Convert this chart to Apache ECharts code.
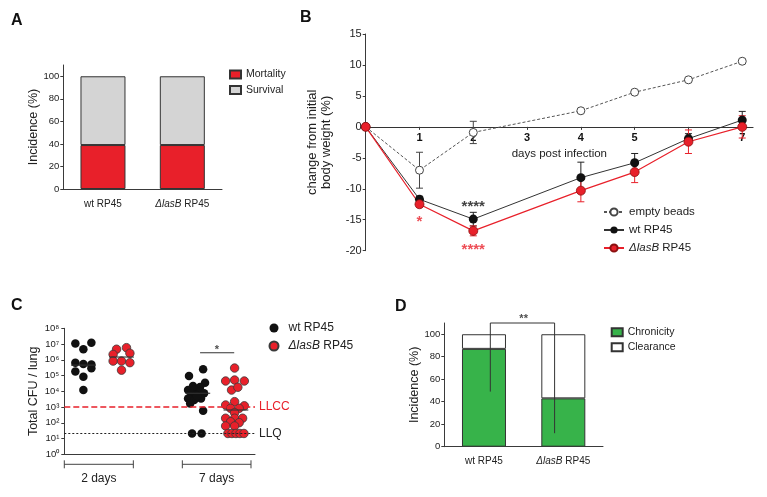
<!DOCTYPE html>
<html><head><meta charset="utf-8">
<script src="https://cdn.jsdelivr.net/npm/echarts@6/dist/echarts.min.js"></script>
<style>html,body{margin:0;padding:0;background:#fff}#c{width:767px;height:497px}</style>
</head><body><div id="c"></div>
<script>
// ---------- Panel A ----------
const catA = ['wt RP45', 'ΔlasB RP45'];
const mortality = [39, 39];
const survival = [61, 61];
// ---------- Panel B ----------
const daysB = [0, 1, 2, 4, 5, 6, 7];
const emptyMean = [0, -7.0, -0.9, 2.6, 5.6, 7.6, 10.6];
const emptyErr = [0, 2.9, 1.8, 0, 0, 0, 0];
const wtMean = [0, -11.7, -14.9, -8.2, -5.8, -1.9, 1.1];
const wtErr = [0, 0.5, 1.1, 2.5, 1.5, 0.8, 1.4];
const lasMean = [0, -12.5, -16.8, -10.3, -7.3, -2.4, 0];
const lasErr = [0, 0.5, 0.8, 1.8, 1.7, 1.9, 1.8];
const starsBlackB = [[2, -12.9, '****']];
const starsRedB = [[1, -15.4, '*'], [2, -19.9, '****']];
// ---------- Panel C ----------
const groupCenters = [1, 3, 7, 9];
const wt2d = [1.1e7, 1.2e7, 4.7e6, 6.6e5, 5.4e5, 5.1e5, 2.9e5, 1.8e5, 8.5e4, 1.2e4];
const wt2dJit = [-0.42, 0.42, 0, -0.42, 0, 0.42, 0.42, -0.42, 0, 0];
const las2d = [4.7e6, 5.9e6, 2.2e6, 2.6e6, 8.3e5, 8.3e5, 6.6e5, 2.2e5];
const las2dJit = [-0.26, 0.26, -0.44, 0.44, -0.44, 0, 0.44, 0];
const wt7d = [2.5e5, 9.3e4, 3.5e4, 2.2e4, 1.9e4, 1.2e4, 1.2e4, 9.5e3, 7.4e3, 7.4e3, 5.8e3, 3.5e3, 3.5e3, 2.8e3, 1.7e3, 5.0e3, 590, 21, 21];
const wt7dJit = [0.28, -0.46, 0.38, -0.25, 0.12, -0.51, -0.19, 0.12, -0.35, 0.33, -0.09, -0.51, 0.17, -0.19, -0.40, -0.04, 0.28, -0.30, 0.20];
const las7d = [3.0e5, 4.5e4, 5.2e4, 4.5e4, 1.2e4, 1.8e4, 1350, 2200, 1200, 830, 830, 440, 195, 195, 195, 117, 102, 63, 63, 21, 21, 21, 21, 21];
const las7dJit = [-0.07, -0.54, -0.07, 0.44, -0.23, 0.10, -0.54, -0.07, 0.44, -0.28, 0.17, -0.07, -0.54, -0.07, 0.35, -0.28, 0.17, -0.54, -0.07, -0.42, -0.21, 0, 0.21, 0.42];
const mediansC = [4.6e5, 1.5e6, 7.5e3, 650];
const LLCC = 1000, LLQ = 21;
const cTicks = [1, 10, 100, 1e3, 1e4, 1e5, 1e6, 1e7, 1e8];
const timeGroups = [[0, 3.62, '2 days'], [6.19, 9.79, '7 days']];
const sigC = [[7.12, 2.8e6], [8.91, 2.8e6]];
const sigCStar = [[8.0, 4.1e6, '*']];
// ---------- Panel D ----------
const catD = ['wt RP45', 'ΔlasB RP45'];
const chronicity = [87, 43];
const clearance = [13, 57];
const sigD = [[0.58, 49], [0.58, 110], [1.39, 110], [1.39, 12]];
const sigDStar = [[1.0, 114, '**']];

const FONT = '"Liberation Sans", Arial, Helvetica, sans-serif';
const RED = '#e8202a';
const AX = {color: '#3a3a3a', width: 1};
const sup = {'0':'⁰','1':'¹','2':'²','3':'³','4':'⁴','5':'⁵','6':'⁶','7':'⁷','8':'⁸'};

function fmtName(n) {
  n = n.replace(' (C)', '');
  return n.indexOf('ΔlasB') === 0 ? '{i|ΔlasB}' + n.slice(5) : n;
}
function errRender(color) {
  return function (params, api) {
    const x = api.value(0), y = api.value(1), e = api.value(2);
    if (!e) return null;
    const t = api.coord([x, y + e]), b = api.coord([x, y - e]);
    const w = 3.5, st = {stroke: color, lineWidth: 1};
    return {type: 'group', children: [
      {type: 'line', shape: {x1: t[0], y1: t[1], x2: b[0], y2: b[1]}, style: st},
      {type: 'line', shape: {x1: t[0] - w, y1: t[1], x2: t[0] + w, y2: t[1]}, style: st},
      {type: 'line', shape: {x1: b[0] - w, y1: b[1], x2: b[0] + w, y2: b[1]}, style: st}
    ]};
  };
}
function jitterData(center, vals, jit) {
  return vals.map((v, i) => [center + jit[i], v]);
}
function starSeries(xi, yi, data, color, size) {
  return {type: 'scatter', xAxisIndex: xi, yAxisIndex: yi, symbolSize: 0, clip: false, silent: true, z: 6,
    data: data,
    label: {show: true, position: 'inside', formatter: p => p.data[2], color: color, fontSize: size, fontWeight: 'bold', fontFamily: FONT}};
}

const gridB = {left: 365.7, top: 34, width: 387.3, height: 216.7};
const bMin = -20, bMax = 15;
const zeroOffset = -gridB.height * (0 - bMin) / (bMax - bMin);

const chart = echarts.init(document.getElementById('c'));
const option = {
  animation: false,
  backgroundColor: '#fff',
  textStyle: {fontFamily: FONT},
  grid: [
    {left: 63.3, top: 65, width: 158.7, height: 124},
    gridB,
    {left: 64.3, top: 328.3, width: 190.7, height: 126},
    {left: 444.3, top: 323, width: 158.7, height: 123.7}
  ],
  xAxis: [
    {type: 'category', gridIndex: 0, data: catA, axisLine: {lineStyle: AX},
      axisTick: {alignWithLabel: true, length: 4, lineStyle: AX},
      axisLabel: {interval: 0, hideOverlap: false, margin: 10, fontSize: 10, color: '#222', formatter: fmtName, rich: {i: {fontStyle: 'italic', fontSize: 10, color: '#222'}}}},
    {type: 'value', gridIndex: 1, min: 0, max: 7.2, interval: 1, splitLine: {show: false}, position: 'bottom', offset: zeroOffset,
      axisLine: {onZero: false, lineStyle: {color: '#333', width: 1.2}},
      axisTick: {customValues: [1, 2, 3, 4, 5, 6, 7], length: 3, lineStyle: AX},
      axisLabel: {customValues: [1, 2, 3, 4, 5, 6, 7], fontSize: 11, fontWeight: 'bold', color: '#111', margin: 6},
      name: 'days post infection', nameLocation: 'middle', nameGap: 21, nameTextStyle: {fontSize: 11.5, color: '#222'}},
    {type: 'value', gridIndex: 2, min: 0, max: 10, splitLine: {show: false}, axisLine: {onZero: false, lineStyle: AX},
      axisTick: {show: false}, axisLabel: {show: false}},
    {type: 'category', gridIndex: 3, data: catD, axisLine: {lineStyle: AX},
      axisTick: {alignWithLabel: true, length: 4, lineStyle: AX},
      axisLabel: {interval: 0, hideOverlap: false, margin: 10, fontSize: 10, color: '#222', formatter: fmtName, rich: {i: {fontStyle: 'italic', fontSize: 10, color: '#222'}}}},
    {type: 'value', gridIndex: 3, min: 0, max: 2, show: false}
  ],
  yAxis: [
    {type: 'value', gridIndex: 0, min: 0, max: 110, splitLine: {show: false}, axisLine: {show: true, lineStyle: AX},
      axisTick: {show: true, length: 3, customValues: [0, 20, 40, 60, 80, 100], lineStyle: AX},
      axisLabel: {customValues: [0, 20, 40, 60, 80, 100], fontSize: 9.5, color: '#222', margin: 4},
      name: 'Incidence (%)', nameLocation: 'middle', nameGap: 20, nameTextStyle: {fontSize: 12.5, color: '#222'}},
    {type: 'value', gridIndex: 1, min: bMin, max: bMax, interval: 5, splitLine: {show: false}, axisLine: {show: true, lineStyle: AX},
      axisTick: {show: true, length: 3, lineStyle: AX},
      axisLabel: {fontSize: 11, color: '#222', margin: 4},
      name: 'change from initial\nbody weight (%)', nameLocation: 'middle', nameGap: 32,
      nameTextStyle: {fontSize: 13, lineHeight: 14.5, color: '#222'}},
    {type: 'log', gridIndex: 2, min: 1, max: 1e8, logBase: 10, splitNumber: 8, splitLine: {show: false},
      axisLine: {show: true, lineStyle: AX},
      axisTick: {show: true, length: 3, customValues: cTicks, lineStyle: AX},
      axisLabel: {customValues: cTicks, fontSize: 9.5, color: '#222', margin: 5,
        formatter: v => '10' + sup[String(Math.round(Math.log10(v)))]},
      name: 'Total CFU / lung', nameLocation: 'middle', nameGap: 24, nameTextStyle: {fontSize: 12.5, color: '#222'}},
    {type: 'value', gridIndex: 3, min: 0, max: 110, splitLine: {show: false}, axisLine: {show: true, lineStyle: AX},
      axisTick: {show: true, length: 3, customValues: [0, 20, 40, 60, 80, 100], lineStyle: AX},
      axisLabel: {customValues: [0, 20, 40, 60, 80, 100], fontSize: 9.5, color: '#222', margin: 4},
      name: 'Incidence (%)', nameLocation: 'middle', nameGap: 20, nameTextStyle: {fontSize: 12.5, color: '#222'}}
  ],
  legend: [
    {data: ['Mortality', 'Survival'], orient: 'vertical', left: 229, top: 69, padding: 0, itemWidth: 11, itemHeight: 8, itemGap: 4.5,
      icon: 'rect', selectedMode: false, textStyle: {fontSize: 10.5, color: '#222'}},
    {data: ['empty beads', 'wt RP45', 'ΔlasB RP45'], orient: 'vertical', left: 603, top: 206, padding: 0, itemWidth: 20, itemHeight: 9, itemGap: 6,
      selectedMode: false, formatter: fmtName, textStyle: {fontSize: 11.5, color: '#222', rich: {i: {fontStyle: 'italic', fontSize: 11.5, color: '#222'}}}},
    {data: ['wt RP45 (C)', 'ΔlasB RP45 (C)'], orient: 'vertical', left: 268.5, top: 322, padding: 0, itemWidth: 9, itemHeight: 9, itemGap: 6, icon: 'circle',
      selectedMode: false, formatter: fmtName, textStyle: {fontSize: 12, color: '#222', padding: [0, 0, 0, 5], rich: {i: {fontStyle: 'italic', fontSize: 12, color: '#222'}}}},
    {data: ['Chronicity', 'Clearance'], orient: 'vertical', left: 610.7, top: 326.7, padding: 0, itemWidth: 11, itemHeight: 8, itemGap: 4,
      icon: 'rect', selectedMode: false, textStyle: {fontSize: 10.5, color: '#222'}}
  ],
  graphic: [
    {type: 'text', left: 11, top: 13, style: {text: 'A', fontSize: 16, fontWeight: 'bold', fontFamily: FONT, fill: '#111'}},
    {type: 'text', left: 300, top: 10, style: {text: 'B', fontSize: 16, fontWeight: 'bold', fontFamily: FONT, fill: '#111'}},
    {type: 'text', left: 11, top: 298, style: {text: 'C', fontSize: 16, fontWeight: 'bold', fontFamily: FONT, fill: '#111'}},
    {type: 'text', left: 395, top: 299, style: {text: 'D', fontSize: 16, fontWeight: 'bold', fontFamily: FONT, fill: '#111'}}
  ],
  series: [
    // Panel A
    {name: 'Mortality', type: 'bar', xAxisIndex: 0, yAxisIndex: 0, stack: 'A', barWidth: 45, data: mortality,
      itemStyle: {color: RED, borderColor: '#333', borderWidth: 1}},
    {name: 'Survival', type: 'bar', xAxisIndex: 0, yAxisIndex: 0, stack: 'A', barWidth: 45, data: survival,
      itemStyle: {color: '#d4d4d4', borderColor: '#333', borderWidth: 1}},
    // Panel B error bars
    {name: 'errE', type: 'custom', xAxisIndex: 1, yAxisIndex: 1, z: 1, clip: false, encode: {x: 0, y: 1},
      data: daysB.map((d, i) => [d, emptyMean[i], emptyErr[i]]), renderItem: errRender('#444')},
    {name: 'errW', type: 'custom', xAxisIndex: 1, yAxisIndex: 1, z: 1, clip: false, encode: {x: 0, y: 1},
      data: daysB.map((d, i) => [d, wtMean[i], wtErr[i]]), renderItem: errRender('#222')},
    {name: 'errL', type: 'custom', xAxisIndex: 1, yAxisIndex: 1, z: 1, clip: false, encode: {x: 0, y: 1},
      data: daysB.map((d, i) => [d, lasMean[i], lasErr[i]]), renderItem: errRender(RED)},
    // Panel B lines
    {name: 'empty beads', type: 'line', xAxisIndex: 1, yAxisIndex: 1, data: daysB.map((d, i) => [d, emptyMean[i]]),
      symbol: 'circle', symbolSize: 8, itemStyle: {color: '#fff', borderColor: '#444', borderWidth: 1},
      lineStyle: {color: '#555', width: 1, type: [3, 2]}},
    {name: 'wt RP45', type: 'line', xAxisIndex: 1, yAxisIndex: 1, data: daysB.map((d, i) => [d, wtMean[i]]),
      symbol: 'circle', symbolSize: 9, itemStyle: {color: '#111'}, lineStyle: {color: '#333', width: 1}},
    {name: 'ΔlasB RP45', type: 'line', xAxisIndex: 1, yAxisIndex: 1, data: daysB.map((d, i) => [d, lasMean[i]]),
      symbol: 'circle', symbolSize: 9, itemStyle: {color: RED, borderColor: '#8a1010', borderWidth: 0.8}, lineStyle: {color: RED, width: 1.2}},
    starSeries(1, 1, starsBlackB, '#111', 15),
    starSeries(1, 1, starsRedB, RED, 15),
    // Panel C
    {name: 'wt RP45 (C)', type: 'scatter', xAxisIndex: 2, yAxisIndex: 2, symbolSize: 8.5, itemStyle: {color: '#111', opacity: 1},
      data: jitterData(groupCenters[0], wt2d, wt2dJit).concat(jitterData(groupCenters[2], wt7d, wt7dJit)),
      markLine: {silent: true, symbol: ['none', 'none'], data: [
        {yAxis: LLCC, lineStyle: {color: RED, type: [6, 3], width: 1.6}, label: {show: true, position: 'end', formatter: 'LLCC', color: RED, fontSize: 12, distance: 4}},
        {yAxis: LLQ, lineStyle: {color: '#222', type: [2, 2], width: 1}, label: {show: true, position: 'end', formatter: 'LLQ', color: '#222', fontSize: 12, distance: 4}}
      ]}},
    {name: 'ΔlasB RP45 (C)', type: 'scatter', xAxisIndex: 2, yAxisIndex: 2, symbolSize: 8.5,
      itemStyle: {color: RED, borderColor: '#3a3a3a', borderWidth: 0.8, opacity: 1},
      data: jitterData(groupCenters[1], las2d, las2dJit).concat(jitterData(groupCenters[3], las7d, las7dJit))},
    {name: 'medians', type: 'custom', xAxisIndex: 2, yAxisIndex: 2, z: 5, clip: false, encode: {x: 0, y: 1},
      data: groupCenters.map((c, i) => [c, mediansC[i]]),
      renderItem: function (params, api) {
        const a = api.coord([api.value(0) - 0.65, api.value(1)]), b = api.coord([api.value(0) + 0.65, api.value(1)]);
        return {type: 'line', shape: {x1: a[0], y1: a[1], x2: b[0], y2: b[1]}, style: {stroke: '#333', lineWidth: 1.1}};
      }},
    {name: 'groups', type: 'custom', xAxisIndex: 2, yAxisIndex: 2, clip: false, encode: {x: [0, 1]},
      data: timeGroups,
      renderItem: function (params, api) {
        const a = api.coord([api.value(0), 1]), b = api.coord([api.value(1), 1]);
        const y = a[1] + 10, st = {stroke: '#444', lineWidth: 1};
        return {type: 'group', children: [
          {type: 'line', shape: {x1: a[0], y1: y, x2: b[0], y2: y}, style: st},
          {type: 'line', shape: {x1: a[0], y1: y - 4, x2: a[0], y2: y + 4}, style: st},
          {type: 'line', shape: {x1: b[0], y1: y - 4, x2: b[0], y2: y + 4}, style: st},
          {type: 'text', x: (a[0] + b[0]) / 2, y: y + 8, style: {text: timeGroups[params.dataIndex][2], fontSize: 12, fontFamily: FONT, fill: '#222', align: 'center', verticalAlign: 'top'}}
        ]};
      }},
    {name: 'sigC', type: 'line', xAxisIndex: 2, yAxisIndex: 2, data: sigC, symbol: 'none', clip: false, lineStyle: {color: '#333', width: 1}},
    starSeries(2, 2, sigCStar, '#222', 11),
    // Panel D
    {name: 'Chronicity', type: 'bar', xAxisIndex: 3, yAxisIndex: 3, stack: 'D', barWidth: 44, data: chronicity,
      itemStyle: {color: '#37b34a', borderColor: '#333', borderWidth: 1}},
    {name: 'Clearance', type: 'bar', xAxisIndex: 3, yAxisIndex: 3, stack: 'D', barWidth: 44, data: clearance,
      itemStyle: {color: '#fff', borderColor: '#333', borderWidth: 1}},
    {name: 'sigD', type: 'line', xAxisIndex: 4, yAxisIndex: 3, data: sigD, symbol: 'none', clip: false, z: 4, lineStyle: {color: '#333', width: 1}},
    starSeries(4, 3, sigDStar, '#222', 11)
  ]
};
chart.setOption(option);
</script></body></html>
